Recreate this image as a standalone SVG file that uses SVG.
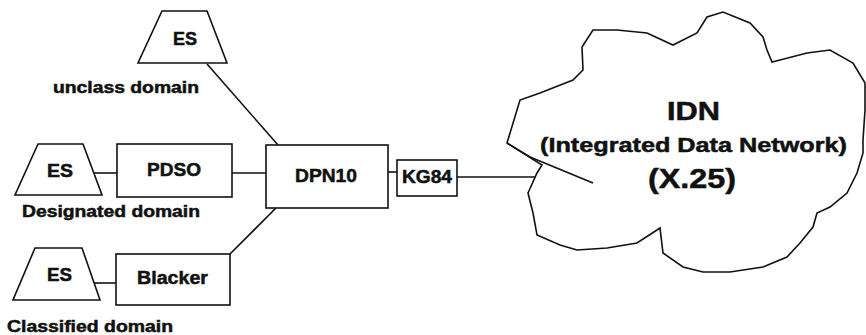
<svg xmlns="http://www.w3.org/2000/svg" width="866" height="335" viewBox="0 0 866 335">
<style>
.s{fill:none;stroke:#111;stroke-width:1.6;stroke-linejoin:round}
.n{fill:#fff;stroke:#111;stroke-width:1.6}
.t{font-family:"Liberation Sans",Arial,sans-serif;font-weight:bold;fill:#111;stroke:#111;stroke-width:0.5}
.d{font-size:16px}
.b{font-size:18px}
</style>
<rect width="866" height="335" fill="#fff"/>
<g id="connectors">
<line class="s" x1="207" y1="64" x2="278" y2="145"/>
<line class="s" x1="94" y1="173" x2="117" y2="173"/>
<line class="s" x1="232" y1="173" x2="266" y2="173"/>
<line class="s" x1="94" y1="283" x2="116" y2="283"/>
<line class="s" x1="230" y1="254" x2="276" y2="208"/>
<line class="s" x1="388" y1="172" x2="397" y2="172"/>
<line class="s" x1="457" y1="177" x2="540" y2="177"/>
</g>
<g id="es-unclass">
<polygon class="n" points="162,11 207,11 227,63 138,63"/>
<text class="t b" x="173" y="45" textLength="24" lengthAdjust="spacingAndGlyphs">ES</text>
<text class="t d" x="53" y="93" textLength="146" lengthAdjust="spacingAndGlyphs">unclass domain</text>
</g>
<g id="es-designated">
<polygon class="n" points="38,144 83,144 102,195 15,195"/>
<text class="t b" x="47" y="177" textLength="26" lengthAdjust="spacingAndGlyphs">ES</text>
<text class="t d" x="22" y="217" textLength="178" lengthAdjust="spacingAndGlyphs">Designated domain</text>
</g>
<g id="pdso">
<rect class="n" x="117" y="144" width="115" height="53"/>
<text class="t b" x="147" y="176" textLength="54" lengthAdjust="spacingAndGlyphs">PDSO</text>
</g>
<g id="es-classified">
<polygon class="n" points="35,248 82,248 100,300 13,300"/>
<text class="t b" x="47" y="281" textLength="25" lengthAdjust="spacingAndGlyphs">ES</text>
<text class="t d" x="7" y="332" textLength="166" lengthAdjust="spacingAndGlyphs">Classified domain</text>
</g>
<g id="blacker">
<rect class="n" x="116" y="254" width="114" height="51"/>
<text class="t b" x="137" y="284" textLength="71" lengthAdjust="spacingAndGlyphs">Blacker</text>
</g>
<g id="dpn10">
<rect class="n" x="266" y="145" width="122" height="63"/>
<text class="t b" x="295" y="182" textLength="62" lengthAdjust="spacingAndGlyphs">DPN10</text>
</g>
<g id="kg84">
<rect class="n" x="397" y="160" width="60" height="36"/>
<text class="t b" x="402" y="183" textLength="50" lengthAdjust="spacingAndGlyphs">KG84</text>
</g>
<g id="idn">
<path class="n" d="M507,143 L520,100 L540,93 L573,80 L583,70 L582,47 L593,30 L617,30 L647,33 L673,45 L697,33 L707,17 L723,12 L750,23 L763,37 L767,50 L772,62 L780,60 L807,53 L830,50 L853,63 L865,83 L865,110 L863,140 L863,153 L857,173 L847,193 L830,207 L817,213 L813,227 L800,243 L787,257 L763,267 L730,272 L703,272 L683,267 L663,253 L660,228 L657,230 L637,243 L607,248 L577,250 L560,245 L537,235 L533,213 L528,193 L537,173 L542,165 Z"/>
<path class="s" d="M507,143 L530,157 L593,183"/>
<text class="t" style="font-size:26px" x="667" y="120" textLength="53" lengthAdjust="spacingAndGlyphs">IDN</text>
<text class="t" style="font-size:20px" x="540" y="152" textLength="307" lengthAdjust="spacingAndGlyphs">(Integrated Data Network)</text>
<text class="t" style="font-size:28px" x="648" y="188" textLength="88" lengthAdjust="spacingAndGlyphs">(X.25)</text>
</g>
</svg>
